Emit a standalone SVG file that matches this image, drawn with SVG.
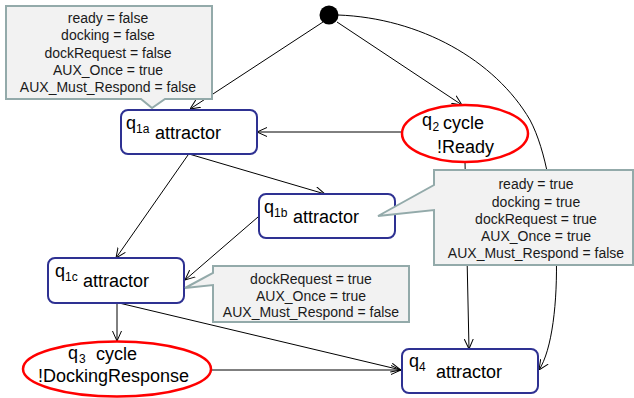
<svg xmlns="http://www.w3.org/2000/svg" width="634" height="398" viewBox="0 0 634 398">
<defs>
<marker id="arr" viewBox="0 0 10 10" refX="10" refY="5" markerWidth="10" markerHeight="10" markerUnits="userSpaceOnUse" orient="auto">
<path d="M0,0.5 L10,5 L0,9.5" fill="none" stroke="#000" stroke-width="1"/>
</marker>
<style>
.e{fill:none;stroke:#000;stroke-width:1;marker-end:url(#arr)}
.n{fill:#fff;stroke:#2e3192;stroke-width:2}
.c{fill:#fff;stroke:#ff0000;stroke-width:2.5}
.t{font-family:"Liberation Sans",Arial,sans-serif;font-size:18px;fill:#000}
.s{font-size:12px}
.co{fill:#f2f2f2;stroke:#93aaaa;stroke-width:2}
.ct{font-family:"Liberation Sans",Arial,sans-serif;font-size:14px;fill:#1a1a1a;text-anchor:middle}
</style>
</defs>
<rect width="634" height="398" fill="#fff"/>
<g id="connectors">
<path class="e" d="M323,22 L190,109"/>
<path class="e" d="M337,22 L462,105"/>
<path class="e" d="M338,15 C420,18 495,60 530,120 C562,180 565,330 539,370"/>
<path class="e" d="M402,132 L257,132"/>
<path class="e" d="M465,162 L469,349"/>
<path class="e" d="M189,154 L325,194"/>
<path class="e" d="M188,155 L116,258"/>
<path class="e" d="M258,217 L185,280"/>
<path class="e" d="M117,303 L117,341"/>
<path class="e" d="M119,303 L401,370"/>
<path class="e" d="M211,370 L401,370"/>
</g>
<g id="start">
<circle cx="329" cy="15" r="9.5" fill="#000"/>
</g>
<g id="q1a">
<rect class="n" x="121" y="110" width="136" height="44" rx="7"/>
<text class="t" x="126" y="129">q<tspan class="s" x="136" y="132.5">1a</tspan><tspan x="155" y="139">attractor</tspan></text>
</g>
<g id="q2">
<ellipse class="c" cx="465" cy="133.5" rx="63" ry="28.5"/>
<text class="t" x="422" y="126">q<tspan class="s" x="432.5" y="131">2</tspan><tspan x="443" y="129">cycle</tspan></text>
<text class="t" x="437" y="153">!Ready</text>
</g>
<g id="q1b">
<rect class="n" x="259" y="194" width="136" height="44" rx="7"/>
<text class="t" x="264" y="213">q<tspan class="s" x="274" y="216.5">1b</tspan><tspan x="293" y="223">attractor</tspan></text>
</g>
<g id="q1c">
<rect class="n" x="48" y="258" width="136" height="45" rx="7"/>
<text class="t" x="55" y="277">q<tspan class="s" x="65" y="280.5">1c</tspan><tspan x="83" y="287">attractor</tspan></text>
</g>
<g id="q3">
<ellipse class="c" cx="117" cy="369" rx="94" ry="27.5"/>
<text class="t" x="68" y="359">q<tspan class="s" x="79" y="363">3</tspan><tspan x="96" y="360">cycle</tspan></text>
<text class="t" x="38" y="382">!DockingResponse</text>
</g>
<g id="q4">
<rect class="n" x="402" y="349" width="136" height="44" rx="7"/>
<text class="t" x="409" y="367">q<tspan class="s" x="419" y="371">4</tspan><tspan x="436" y="378">attractor</tspan></text>
</g>
<g id="note1">
<path class="co" d="M6,6 H212 V99 H165 L152,108 L141,99 H6 Z"/>
<text class="ct" x="108" y="23">ready = false</text>
<text class="ct" x="108" y="40">docking = false</text>
<text class="ct" x="108" y="58">dockRequest = false</text>
<text class="ct" x="108" y="75">AUX_Once = true</text>
<text class="ct" x="108" y="92">AUX_Must_Respond = false</text>
</g>
<g id="note2">
<path class="co" d="M434,170 H633 V265 H434 V210 L378,216 L434,185 Z"/>
<text class="ct" x="536" y="189">ready = true</text>
<text class="ct" x="536" y="206.5">docking = true</text>
<text class="ct" x="536" y="224">dockRequest = true</text>
<text class="ct" x="536" y="241">AUX_Once = true</text>
<text class="ct" x="536" y="258">AUX_Must_Respond = false</text>
</g>
<g id="note3">
<path class="co" d="M213,266 H409 V322 H213 V285 L185,288 L213,273 Z"/>
<text class="ct" x="311" y="284">dockRequest = true</text>
<text class="ct" x="311" y="300.5">AUX_Once = true</text>
<text class="ct" x="311" y="317">AUX_Must_Respond = false</text>
</g>
</svg>
